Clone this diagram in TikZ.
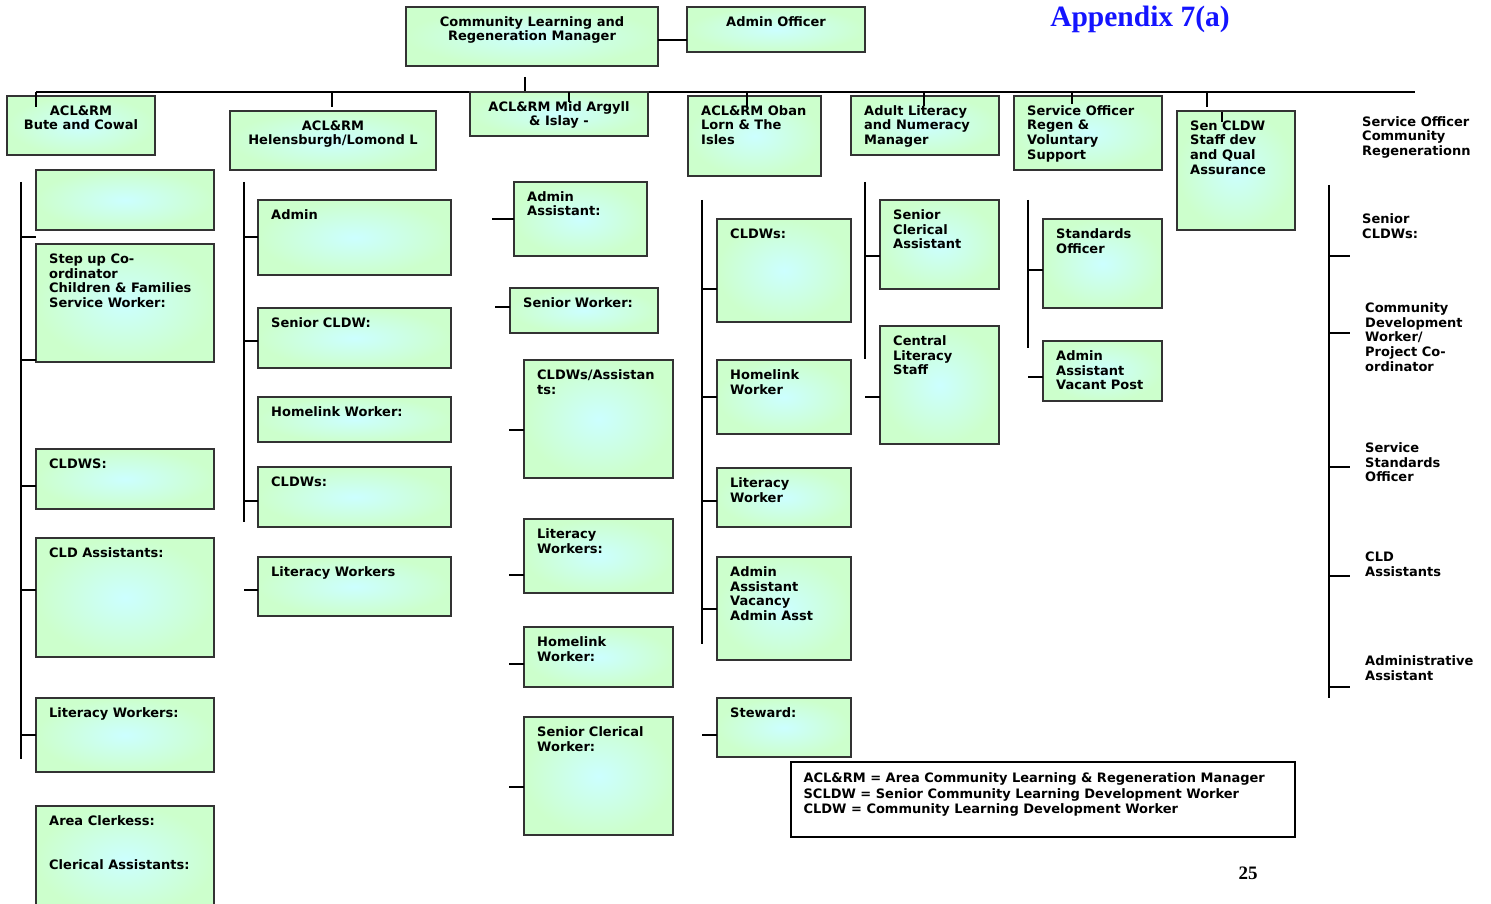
\documentclass[tikz,border=0pt]{standalone}
\usepackage{fontspec}
\newfontfamily\dv{DejaVu Sans}
\newfontfamily\tms{Liberation Serif}
\definecolor{boxin}{HTML}{CCFFFF}
\definecolor{boxout}{HTML}{CCFFCC}
\definecolor{boxline}{HTML}{333333}
\definecolor{appblue}{HTML}{1414FF}
% box with left-aligned text
\newcommand\bxl[6]{%
  \node[box, minimum width={#4-#2}, minimum height={#5-#3}] (#1) at ({(#2+#4)/2},{(#3+#5)/2}) {};
  \node[txt, anchor=north west, align=left] (#1-t) at ([shift={(13,9)}]#1.north west) {\rule{0pt}{10pt}#6};}
% box with centred text
\newcommand\bxc[6]{%
  \node[box, minimum width={#4-#2}, minimum height={#5-#3}] (#1) at ({(#2+#4)/2},{(#3+#5)/2}) {};
  \node[txt, anchor=north, align=center] (#1-t) at ([shift={(0,9)}]#1.north) {\rule{0pt}{10pt}#6};}
% empty box
\newcommand\bxe[5]{%
  \node[box, minimum width={#4-#2}, minimum height={#5-#3}] (#1) at ({(#2+#4)/2},{(#3+#5)/2}) {};}
% tick from spine coordinate to box west at a given y
\newcommand\tk[3]{\draw[conn] (#1 |- 0,#3) -- (#2.west |- 0,#3);}
\begin{document}
\begin{tikzpicture}[x=1pt,y=-1pt,
  box/.style={draw=boxline, line width=1.5pt, inner sep=0pt, outer sep=0pt, inner color=boxin, outer color=boxout},
  txt/.style={inner sep=0pt, font=\dv\bfseries\fontsize{13}{14.8}\selectfont, text=black},
  conn/.style={draw=black, line width=1.2pt},
  legendbox/.style={draw=black, line width=1.2pt, fill=white, inner sep=0pt}]
\clip (0,0) rectangle (1491,904);

% ---------- top ----------
\bxc{clrm}{406}{7}{658}{66}{Community Learning and\\Regeneration Manager}
\bxc{adminoff}{687}{7}{865}{52}{Admin Officer}
\draw[conn] (clrm.east |- 0,40) -- (adminoff.west |- 0,40);
\node[font=\tms\bfseries\fontsize{29.5}{31}\selectfont, text=appblue, anchor=base, inner sep=0pt] (app) at (1140,27) {Appendix 7(a)};

% bus
\coordinate (busL) at (36,92);
\coordinate (busR) at (1415,92);
\coordinate (mgr) at (525,77);
\draw[conn] (mgr) -- (mgr |- busL);
\draw[conn] (busL) -- (busR);

% ---------- second row ----------
\bxc{bute}{7}{96}{155}{155}{ACL\&RM\\Bute and Cowal}
\bxc{hel}{230}{111}{436}{170}{ACL\&RM\\Helensburgh/Lomond L}
\bxc{mid}{470}{92}{648}{136}{ACL\&RM Mid Argyll\\\& Islay -}
\bxl{oban}{688}{96}{821}{176}{ACL\&RM Oban\\Lorn \& The\\Isles}
\bxl{adult}{851}{96}{999}{155}{Adult Literacy\\and Numeracy\\Manager}
\bxl{servoff}{1014}{96}{1162}{170}{Service Officer\\Regen \&\\Voluntary\\Support}
\bxl{sencldw}{1177}{111}{1295}{230}{Sen CLDW\\Staff dev\\and Qual\\Assurance}
\node[txt, anchor=north west, align=left] (sor) at (1362,116) {\rule{0pt}{10pt}Service Officer\\Community\\Regenerationn};

% drops from the bus
\draw[conn] (busL) -- (36,107);
\draw[conn] (332,92) -- (332,107);
\draw[conn] (569,92) -- (569,102);
\draw[conn] (747,92) -- (747,107);
\draw[conn] (924,92) -- (924,106);
\draw[conn] (1072,92) -- (1072,104);
\draw[conn] (1207,92) -- (1207,107);
\draw[conn] (1222,112) -- (1222,122);

% ---------- column 1 : Bute and Cowal ----------
\coordinate (s1) at (21,182);
\draw[conn] (s1) -- (21,759);
\bxe{c1a}{36}{170}{214}{230}
\bxl{c1b}{36}{244}{214}{362}{Step up Co-\\ordinator\\Children \& Families\\Service Worker:}
\bxl{c1c}{36}{449}{214}{509}{CLDWS:}
\bxl{c1d}{36}{538}{214}{657}{CLD Assistants:}
\bxl{c1e}{36}{698}{214}{772}{Literacy Workers:}
\bxl{c1f}{36}{806}{214}{915}{Area Clerkess:\\~\\~\\Clerical Assistants:}
\tk{s1}{c1b}{237}
\tk{s1}{c1b}{360}
\tk{s1}{c1c}{486}
\tk{s1}{c1d}{590}
\tk{s1}{c1e}{735}

% ---------- column 2 : Helensburgh ----------
\coordinate (s2) at (244,182);
\draw[conn] (s2) -- (244,522);
\bxl{c2a}{258}{200}{451}{275}{Admin}
\bxl{c2b}{258}{308}{451}{368}{Senior CLDW:}
\bxl{c2c}{258}{397}{451}{442}{Homelink Worker:}
\bxl{c2d}{258}{467}{451}{527}{CLDWs:}
\bxl{c2e}{258}{557}{451}{616}{Literacy Workers}
\tk{s2}{c2a}{237}
\tk{s2}{c2b}{341}
\tk{s2}{c2d}{501}
\tk{s2}{c2e}{590}

% ---------- column 3 : Mid Argyll ----------
\bxl{c3a}{514}{182}{647}{256}{Admin\\Assistant:}
\bxl{c3b}{510}{288}{658}{333}{Senior Worker:}
\bxl{c3c}{524}{360}{673}{478}{CLDWs/Assistan\\ts:}
\bxl{c3d}{524}{519}{673}{593}{Literacy\\Workers:}
\bxl{c3e}{524}{627}{673}{687}{Homelink\\Worker:}
\bxl{c3f}{524}{717}{673}{835}{Senior Clerical\\Worker:}
\draw[conn] (c3a.west |- 0,219) -- ++(-22,0);
\draw[conn] (c3b.west |- 0,307) -- ++(-15,0);
\draw[conn] (c3c.west |- 0,430) -- ++(-15,0);
\draw[conn] (c3d.west |- 0,575) -- ++(-15,0);
\draw[conn] (c3e.west |- 0,664) -- ++(-15,0);
\draw[conn] (c3f.west |- 0,787) -- ++(-15,0);

% ---------- column 4 : Oban ----------
\coordinate (s4) at (702,200);
\draw[conn] (s4) -- (702,644);
\bxl{c4a}{717}{219}{851}{322}{CLDWs:}
\bxl{c4b}{717}{360}{851}{434}{Homelink\\Worker}
\bxl{c4c}{717}{468}{851}{527}{Literacy\\Worker}
\bxl{c4d}{717}{557}{851}{660}{Admin\\Assistant\\Vacancy\\Admin Asst}
\bxl{c4e}{717}{698}{851}{757}{Steward:}
\tk{s4}{c4a}{289}
\tk{s4}{c4b}{397}
\tk{s4}{c4c}{501}
\tk{s4}{c4d}{609}
\tk{s4}{c4e}{735}

% ---------- column 5 : Adult Literacy ----------
\coordinate (s5) at (865,182);
\draw[conn] (s5) -- (865,359);
\bxl{c5a}{880}{200}{999}{289}{Senior\\Clerical\\Assistant}
\bxl{c5b}{880}{326}{999}{444}{Central\\Literacy\\Staff}
\tk{s5}{c5a}{256}
\tk{s5}{c5b}{397}

% ---------- column 6 : Service Officer ----------
\coordinate (s6) at (1028,200);
\draw[conn] (s6) -- (1028,348);
\bxl{c6a}{1043}{219}{1162}{308}{Standards\\Officer}
\bxl{c6b}{1043}{341}{1162}{401}{Admin\\Assistant\\Vacant Post}
\tk{s6}{c6a}{270}
\tk{s6}{c6b}{377}

% ---------- column 7 : plain list ----------
\coordinate (s7) at (1329,185);
\draw[conn] (s7) -- (1329,698);
\node[txt, anchor=north west, align=left] (r1) at (1362,213) {\rule{0pt}{10pt}Senior\\CLDWs:};
\node[txt, anchor=north west, align=left] (r2) at (1365,302) {\rule{0pt}{10pt}Community\\Development\\Worker/\\Project Co-\\ordinator};
\node[txt, anchor=north west, align=left] (r3) at (1365,442) {\rule{0pt}{10pt}Service\\Standards\\Officer};
\node[txt, anchor=north west, align=left] (r4) at (1365,551) {\rule{0pt}{10pt}CLD\\Assistants};
\node[txt, anchor=north west, align=left] (r5) at (1365,655) {\rule{0pt}{10pt}Administrative\\Assistant};
\foreach \yy in {256,333,467,576,687} {\draw[conn] (s7 |- 0,\yy) -- ++(21,0);}

% ---------- legend ----------
\node[legendbox, minimum width=504, minimum height=75] (leg) at (1043,799.5) {};
\node[txt, anchor=north west, align=left, font=\dv\bfseries\fontsize{13}{15.6}\selectfont] (leg-t) at ([shift={(13,11)}]leg.north west) {\rule{0pt}{10pt}ACL\&RM = Area Community Learning \& Regeneration Manager\\SCLDW = Senior Community Learning Development Worker\\CLDW = Community Learning Development Worker};

\node[font=\tms\bfseries\fontsize{19}{20}\selectfont, anchor=base, inner sep=0pt] (pg) at (1248,879) {25};
\end{tikzpicture}
\end{document}
